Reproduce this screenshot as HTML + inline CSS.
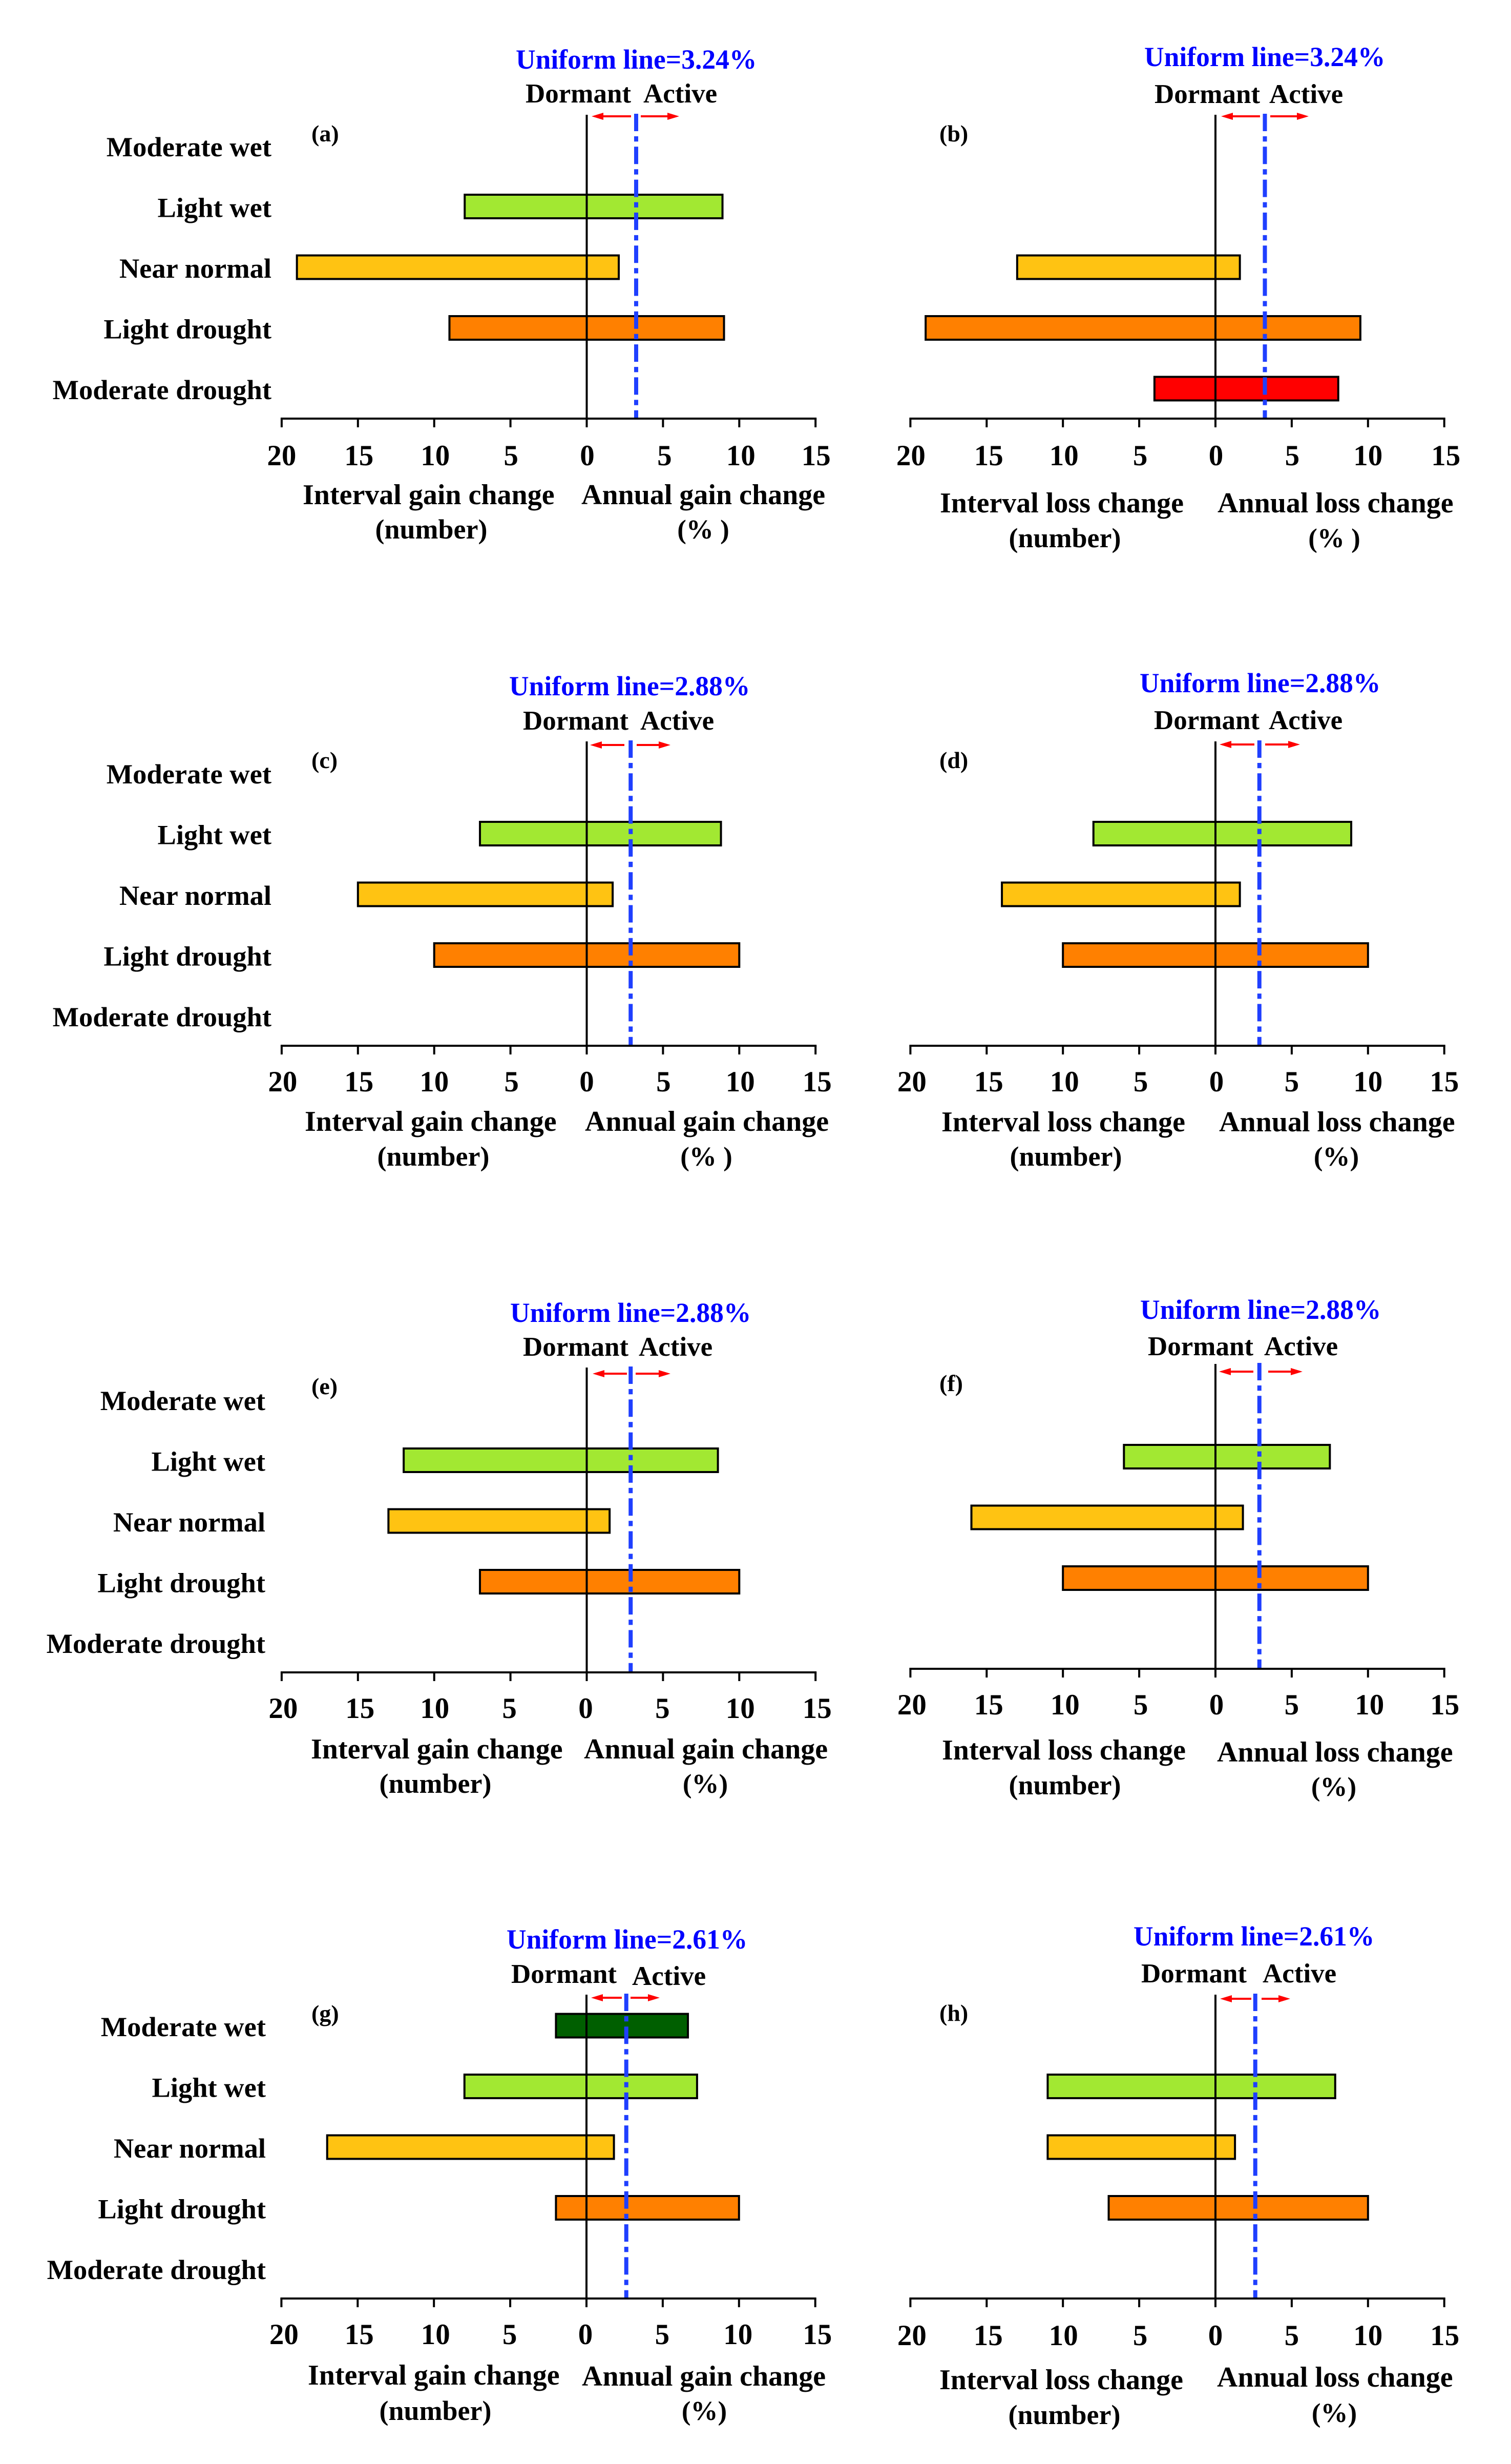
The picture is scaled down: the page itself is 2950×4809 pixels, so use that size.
<!DOCTYPE html>
<html lang="en">
<head>
<meta charset="utf-8">
<title>Interval and annual change panels</title>
<style>
html,body{margin:0;padding:0;background:#fff;width:2950px;height:4809px;overflow:hidden}
svg{display:block}
text{font-family:"Liberation Serif","Times New Roman",serif;font-weight:bold;fill:#000}
</style>
</head>
<body>
<svg id="figure" xmlns="http://www.w3.org/2000/svg" width="2950" height="4809" viewBox="0 0 2950 4809"></svg>
<script>
const categories = ["Moderate wet", "Light wet", "Near normal", "Light drought", "Moderate drought"];
const tickValuesLeft = [20, 15, 10, 5, 0];
const tickValuesRight = [5, 10, 15];
const panelIds = ["a", "b", "c", "d", "e", "f", "g", "h"];
const uniformValues = [3.24, 3.24, 2.88, 2.88, 2.88, 2.88, 2.61, 2.61];

const dormantA = [null, 8, 19, 9, null];
const activeA = [null, 8.9, 2.1, 9, null];
const dormantB = [null, null, 13, 19, 4];
const activeB = [null, null, 1.6, 9.5, 8.05];
const dormantC = [null, 7, 15, 10, null];
const activeC = [null, 8.8, 1.7, 10, null];
const dormantD = [null, 8, 14, 10, null];
const activeD = [null, 8.9, 1.6, 10, null];
const dormantE = [null, 12, 13, 7, null];
const activeE = [null, 8.6, 1.5, 10, null];
const dormantF = [null, 6, 16, 10, null];
const activeF = [null, 7.5, 1.8, 10, null];
const dormantG = [2, 8, 17, 2, null];
const activeG = [6.65, 7.25, 1.8, 10, null];
const dormantH = [null, 11, 11, 7, null];
const activeH = [null, 7.85, 1.28, 10, null];

const dormantSeries = [dormantA, dormantB, dormantC, dormantD, dormantE, dormantF, dormantG, dormantH];
const activeSeries = [activeA, activeB, activeC, activeD, activeE, activeF, activeG, activeH];

const barColors = ["#005f00", "#a2e832", "#ffc312", "#ff8000", "#ff0000"];

const layouts = [
 {zero:1145.5,axis:817,top:224,uni:[1007,134],dor:[1026,200],act:[1256,200],tag:[608,276],cat:530,tickY:908,
  nudge:[0,2,2,1,1,3,3,1],il:[591,984],al:[1135,984],num:[842,1051],pct:[1373,1051],pctText:"(% )",
  arrow:[1155,1232,1251,1326,227],kind:"gain"},
 {zero:2373,axis:817,top:224,uni:[2234,129],dor:[2254,201],act:[2478,201],tag:[1834,276],cat:null,tickY:908,
  nudge:[1,4,2,2,1,1,0,3],il:[1835,1000],al:[2377,1000],num:[2079,1068],pct:[2605,1068],pctText:"(% )",
  arrow:[2384,2460,2480,2555,227],kind:"loss"},
 {zero:1145.5,axis:2041,top:1447,uni:[994,1357],dor:[1021,1424],act:[1250,1424],tag:[608,1499],cat:530,tickY:2130,
  nudge:[2,2,0,2,0,1,2,3],il:[595,2207],al:[1142,2207],num:[846,2275],pct:[1379,2275],pctText:"(% )",
  arrow:[1152,1219,1243,1309,1454],kind:"gain"},
 {zero:2373,axis:2041,top:1447,uni:[2225,1351],dor:[2253,1423],act:[2477,1423],tag:[1834,1499],cat:null,tickY:2130,
  nudge:[3,4,3,3,2,0,0,0],il:[1838,2208],al:[2380,2208],num:[2081,2275],pct:[2609,2275],pctText:"(%)",
  arrow:[2381,2449,2470,2538,1453],kind:"loss"},
 {zero:1145.5,axis:3264,top:2669,uni:[996,2580],dor:[1021,2646],act:[1247,2646],tag:[608,2721],cat:518,tickY:3353,
  nudge:[3,4,1,-2,-2,-1,2,3],il:[607,3432],al:[1140,3432],num:[850,3499],pct:[1377,3499],pctText:"(%)",
  arrow:[1157,1224,1241,1309,2681],kind:"gain"},
 {zero:2373,axis:3257,top:2662,uni:[2226,2574],dor:[2241,2645],act:[2468,2645],tag:[1834,2715],cat:null,tickY:3346,
  nudge:[3,4,4,3,2,0,3,1],il:[1839,3434],al:[2376,3438],num:[2079,3502],pct:[2604,3505],pctText:"(%)",
  arrow:[2380,2447,2476,2543,2677],kind:"loss"},
 {zero:1145,axis:4486,top:3893,uni:[989,3803],dor:[998,3870],act:[1234,3874],tag:[608,3945],cat:519,tickY:4575,
  nudge:[5,3,3,-1,-2,-1,-2,4],il:[601,4654],al:[1136,4656],num:[850,4723],pct:[1375,4723],pctText:"(%)",
  arrow:[1154,1214,1231,1288,3899],kind:"gain"},
 {zero:2373,axis:4486,top:3893,uni:[2213,3797],dor:[2228,3869],act:[2465,3869],tag:[1834,3944],cat:null,tickY:4577,
  nudge:[3,3,1,2,0,0,0,1],il:[1834,4663],al:[2376,4658],num:[2078,4731],pct:[2605,4727],pctText:"(%)",
  arrow:[2382,2443,2463,2519,3901],kind:"loss"}
];

const UNIT = 29.78;
const svg = document.getElementById("figure");
const NS = "http://www.w3.org/2000/svg";

function make(tag, attrs, parent) {
  const el = document.createElementNS(NS, tag);
  for (const k in attrs) el.setAttribute(k, attrs[k]);
  parent.appendChild(el);
  return el;
}
function label(parent, str, x, y, size, anchor, fill) {
  const el = make("text", {x: x, y: y, "font-size": size, "text-anchor": anchor || "start"}, parent);
  if (fill) el.style.fill = fill;
  el.textContent = str;
  return el;
}

panelIds.forEach(function (id, p) {
  const L = layouts[p];
  const xDormant = function (v) { return L.zero - v * UNIT; };
  const xActive = function (v) { return L.zero + v * UNIT; };
  const yCat = function (i) { return L.axis - 532.5 + i * 118.5; };

  const g = make("g", {}, svg);
  
  

  const tag = label(g, "(" + id + ")", L.tag[0], L.tag[1], 46);
  
  

  const uni = label(g, "Uniform line=" + uniformValues[p] + "%", L.uni[0], L.uni[1], 53.5, "start", "#0000ff");
  
  

  const dor = label(g, "Dormant", L.dor[0], L.dor[1], 53);
  
  

  const act = label(g, "Active", L.act[0], L.act[1], 53);
  
  

  if (L.cat !== null) {
    categories.forEach(function (c, i) {
      const t = label(g, c, L.cat, L.axis - 512 + i * 118.5, 54.5, "end");
      
      
    });
  }

  categories.forEach(function (c, i) {
    const d = dormantSeries[p][i];
    const a = activeSeries[p][i];
    if (d === null || a === null) return;
    const x0 = xDormant(d);
    const x1 = xActive(a);
    const bar = make("rect", {x: x0, y: yCat(i) - 23, width: x1 - x0, height: 46, fill: barColors[i], stroke: "#000", "stroke-width": 4}, g);
    
    
  });

  const zeroLine = make("line", {x1: L.zero, x2: L.zero, y1: L.top, y2: L.axis + 17, stroke: "#000", "stroke-width": 4}, g);
  
  

  const uniX = xActive(uniformValues[p]);
  const uniLine = make("line", {x1: uniX, x2: uniX, y1: L.top - 2, y2: L.axis - 2, stroke: "#1f3fff", "stroke-width": 8, "stroke-dasharray": "34 10 10.3 10"}, g);
  
  

  const axisLine = make("line", {x1: xDormant(20) - 2, x2: xActive(15) + 2, y1: L.axis, y2: L.axis, stroke: "#000", "stroke-width": 4}, g);
  
  

  const ticks = tickValuesLeft.map(function (v) { return [v, xDormant(v)]; })
    .concat(tickValuesRight.map(function (v) { return [v, xActive(v)]; }));
  ticks.forEach(function (tk, i) {
    const mark = make("line", {x1: tk[1], x2: tk[1], y1: L.axis, y2: L.axis + 17, stroke: "#000", "stroke-width": 4}, g);
    
    
    const t = label(g, String(tk[0]), tk[1] + L.nudge[i], L.tickY, 57, "middle");
    
    
  });

  const il = label(g, "Interval " + L.kind + " change", L.il[0], L.il[1], 56);
  
  

  const al = label(g, "Annual " + L.kind + " change", L.al[0], L.al[1], 56);
  
  

  const num = label(g, "(number)", L.num[0], L.num[1], 54, "middle");
  
  

  const pct = label(g, L.pctText, L.pct[0], L.pct[1], 53, "middle");
  
  

  const A = L.arrow;
  const y = A[4];
  const leftArrow = make("path", {d: "M" + A[1] + " " + (y - 2) + "H" + (A[0] + 23) + "V" + (y - 7) + "L" + A[0] + " " + y + "L" + (A[0] + 23) + " " + (y + 7) + "V" + (y + 2) + "H" + A[1] + "Z", fill: "#ff0000"}, g);
  
  
  const rightArrow = make("path", {d: "M" + A[2] + " " + (y - 2) + "H" + (A[3] - 23) + "V" + (y - 7) + "L" + A[3] + " " + y + "L" + (A[3] - 23) + " " + (y + 7) + "V" + (y + 2) + "H" + A[2] + "Z", fill: "#ff0000"}, g);
  
  
});
</script>
</body>
</html>
